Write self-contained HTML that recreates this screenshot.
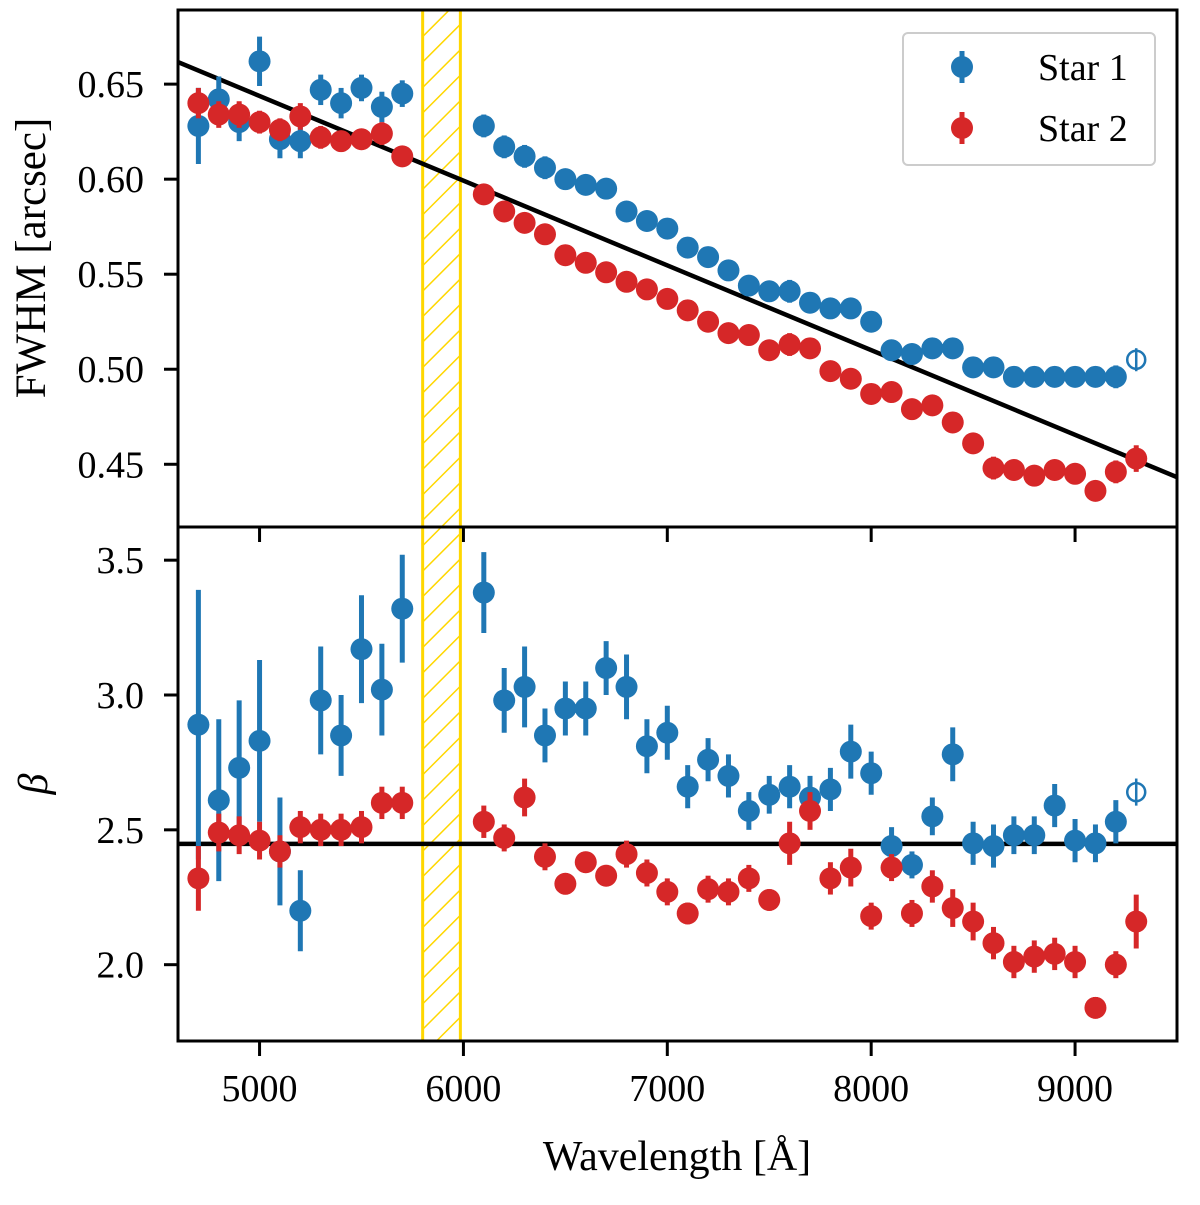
<!DOCTYPE html>
<html><head><meta charset="utf-8"><style>
html,body{margin:0;padding:0;background:#fff;}
svg text{font-family:"Liberation Serif","DejaVu Serif",serif;fill:#000;}
</style></head><body>
<svg id="chart" width="1200" height="1200" viewBox="0 0 1200 1200" xmlns="http://www.w3.org/2000/svg"></svg>
<script>
const wl = [4700,4800,4900,5000,5100,5200,5300,5400,5500,5600,5700,6100,6200,6300,6400,6500,6600,6700,6800,6900,7000,7100,7200,7300,7400,7500,7600,7700,7800,7900,8000,8100,8200,8300,8400,8500,8600,8700,8800,8900,9000,9100,9200,9300];
const fwhm1 = [0.628,0.642,0.630,0.662,0.621,0.620,0.647,0.640,0.648,0.638,0.645,0.628,0.617,0.612,0.606,0.600,0.597,0.595,0.583,0.578,0.574,0.564,0.559,0.552,0.544,0.541,0.541,0.535,0.532,0.532,0.525,0.510,0.508,0.511,0.511,0.501,0.501,0.496,0.496,0.496,0.496,0.496,0.496,0.505];
const fwhm1Err = [0.02,0.012,0.01,0.013,0.01,0.009,0.008,0.008,0.007,0.008,0.007,0.006,0.006,0.006,0.006,0.005,0.005,0.005,0.005,0.005,0.005,0.005,0.005,0.005,0.005,0.005,0.006,0.005,0.005,0.005,0.005,0.005,0.005,0.005,0.005,0.005,0.005,0.005,0.005,0.005,0.005,0.005,0.006,0.006];
const fwhm2 = [0.640,0.634,0.634,0.630,0.626,0.633,0.622,0.620,0.621,0.624,0.612,0.592,0.583,0.577,0.571,0.560,0.556,0.551,0.546,0.542,0.537,0.531,0.525,0.519,0.518,0.510,0.513,0.511,0.499,0.495,0.487,0.488,0.479,0.481,0.472,0.461,0.448,0.447,0.444,0.447,0.445,0.436,0.446,0.453];
const fwhm2Err = [0.008,0.007,0.007,0.006,0.006,0.007,0.006,0.005,0.005,0.006,0.005,0.005,0.005,0.005,0.005,0.005,0.005,0.005,0.005,0.005,0.005,0.005,0.005,0.005,0.005,0.005,0.006,0.005,0.005,0.005,0.005,0.005,0.005,0.005,0.005,0.005,0.006,0.005,0.005,0.005,0.005,0.005,0.006,0.007];
const beta1 = [2.89,2.61,2.73,2.83,2.42,2.20,2.98,2.85,3.17,3.02,3.32,3.38,2.98,3.03,2.85,2.95,2.95,3.10,3.03,2.81,2.86,2.66,2.76,2.70,2.57,2.63,2.66,2.62,2.65,2.79,2.71,2.44,2.37,2.55,2.78,2.45,2.44,2.48,2.48,2.59,2.46,2.45,2.53,2.64];
const beta1Err = [0.5,0.3,0.25,0.3,0.2,0.15,0.2,0.15,0.2,0.17,0.2,0.15,0.12,0.15,0.1,0.1,0.1,0.1,0.12,0.1,0.1,0.08,0.08,0.08,0.07,0.07,0.08,0.08,0.08,0.1,0.08,0.07,0.05,0.07,0.1,0.08,0.08,0.07,0.07,0.08,0.08,0.07,0.08,0.05];
const beta2 = [2.32,2.49,2.48,2.46,2.42,2.51,2.50,2.50,2.51,2.60,2.60,2.53,2.47,2.62,2.40,2.30,2.38,2.33,2.41,2.34,2.27,2.19,2.28,2.27,2.32,2.24,2.45,2.57,2.32,2.36,2.18,2.36,2.19,2.29,2.21,2.16,2.08,2.01,2.03,2.04,2.01,1.84,2.00,2.16];
const beta2Err = [0.12,0.07,0.07,0.07,0.06,0.06,0.06,0.06,0.06,0.06,0.06,0.06,0.05,0.07,0.05,0.04,0.04,0.04,0.05,0.05,0.05,0.04,0.05,0.05,0.05,0.04,0.08,0.07,0.06,0.07,0.05,0.05,0.05,0.06,0.07,0.07,0.06,0.06,0.06,0.06,0.06,0.04,0.05,0.1];
const xTicks = [5000,6000,7000,8000,9000];
const fwhmTicks = [0.45,0.50,0.55,0.60,0.65];
const betaTicks = [2.0,2.5,3.0,3.5];
const fitLine = [0.6616,0.4432];
const betaMean = [2.448];
const band = [5800,5985];

const NS="http://www.w3.org/2000/svg";
const svg=document.getElementById('chart');
const L=178,R=1177,T1=10,B1=527,T2=527,B2=1041;
const xMin=4600,xMax=9500;
const X=v=>L+(v-xMin)/(xMax-xMin)*(R-L);
const Y1=v=>B1-(v-0.417)/(0.689-0.417)*(B1-T1);
const Y2=v=>B2-(v-1.717)/(3.623-1.717)*(B2-T2);
function mk(tag,attrs,parent){const e=document.createElementNS(NS,tag);for(const k in attrs)e.setAttribute(k,attrs[k]);(parent||svg).appendChild(e);return e;}

const defs=mk('defs',{});
const pat=mk('pattern',{id:'hatch',patternUnits:'userSpaceOnUse',width:18,height:18,patternTransform:'rotate(45)'},defs);
mk('line',{x1:0,y1:0,x2:0,y2:18,stroke:'#FFD700','stroke-width':3},pat);
const clip=mk('clipPath',{id:'clipAll'},defs);
mk('rect',{x:L,y:T1,width:R-L,height:B2-T1},clip);

function panel(Y,top,bot,yTicks,fmt,name){
  const g=mk('g',{'clip-path':'url(#clipAll)'});
  
  
  const b=mk('rect',{x:X(band[0]),y:top,width:X(band[1])-X(band[0]),height:bot-top,fill:'url(#hatch)',stroke:'#FFD700','stroke-width':3},g);
  
  
  xTicks.forEach(v=>{
    const t1=mk('line',{x1:X(v),x2:X(v),y1:bot,y2:bot+15,stroke:'#000','stroke-width':3});
    
    
  });
  yTicks.forEach(v=>{
    const t=mk('line',{x1:L,x2:L-14,y1:Y(v),y2:Y(v),stroke:'#000','stroke-width':3});
    
    
    const tl=mk('text',{x:L-34,y:Y(v)+13,'text-anchor':'end','font-size':38});
    tl.textContent=fmt(v);
    
    
  });
  return g;
}
const g1=panel(Y1,T1,B1,fwhmTicks,v=>v.toFixed(2),'fwhm');
const g2=panel(Y2,T2,B2,betaTicks,v=>v.toFixed(1),'beta');

const fl=mk('line',{x1:X(xMin),y1:Y1(fitLine[0]),x2:X(xMax),y2:Y1(fitLine[1]),stroke:'#000','stroke-width':4.5},g1);


const bl=mk('line',{x1:L,x2:R,y1:Y2(betaMean[0]),y2:Y2(betaMean[0]),stroke:'#000','stroke-width':4.5},g2);



function series(g,Y,vals,errs,color,name){
  vals.forEach((v,i)=>{
    const x=X(wl[i]);
    const open=(name.startsWith('star1')&&i===wl.length-1);
    const e=mk('line',{x1:x,x2:x,y1:Y(v-errs[i]),y2:Y(v+errs[i]),stroke:color,'stroke-width':open?2.5:5},g);
    
    
    const c=mk('circle',{cx:x,cy:Y(v),r:open?9:11,fill:open?'#fff':color,stroke:color,'stroke-width':open?2.5:0},g);
    
    
    if(open){const e2=mk('line',{x1:x,x2:x,y1:Y(v-errs[i]),y2:Y(v+errs[i]),stroke:color,'stroke-width':2.5},g);
      
      }
  });
}
series(g1,Y1,fwhm1,fwhm1Err,'#1f77b4','star1-fwhm');
series(g1,Y1,fwhm2,fwhm2Err,'#d62728','star2-fwhm');
series(g2,Y2,beta1,beta1Err,'#1f77b4','star1-beta');
series(g2,Y2,beta2,beta2Err,'#d62728','star2-beta');

[[T1,B1,'fwhm-frame'],[T2,B2,'beta-frame']].forEach(([t,b,n])=>{
  const r=mk('rect',{x:L,y:t,width:R-L,height:b-t,fill:'none',stroke:'#000','stroke-width':3});
  
  
});
xTicks.forEach(v=>{
  const tl=mk('text',{x:X(v),y:B2+60,'text-anchor':'middle','font-size':38});
  tl.textContent=v;
  
  
});
const xl=mk('text',{x:677,y:1170,'text-anchor':'middle','font-size':42});
xl.textContent='Wavelength [Å]';


const yl=mk('text',{x:0,y:0,'text-anchor':'middle','font-size':43,transform:'translate(45,258) rotate(-90)'});
yl.textContent='FWHM [arcsec]';


const yl2=mk('text',{x:0,y:0,'text-anchor':'middle','font-size':42,'font-style':'italic',transform:'translate(47,784) rotate(-90)'});
yl2.textContent='β';



const lg=mk('g',{});


mk('rect',{x:903,y:33,width:252,height:132,rx:5,fill:'#fff','fill-opacity':0.8,stroke:'#ccc','stroke-width':2},lg);
[['Star 1','#1f77b4',67],['Star 2','#d62728',128]].forEach(([lab,col,yy])=>{
  const en=mk('g',{},lg);
  
  
  mk('line',{x1:962,x2:962,y1:yy-16,y2:yy+16,stroke:col,'stroke-width':5},en);
  mk('circle',{cx:962,cy:yy,r:11,fill:col},en);
  const t=mk('text',{x:1038,y:yy+13,'font-size':38},en);
  t.textContent=lab;
});
</script>
</body></html>
